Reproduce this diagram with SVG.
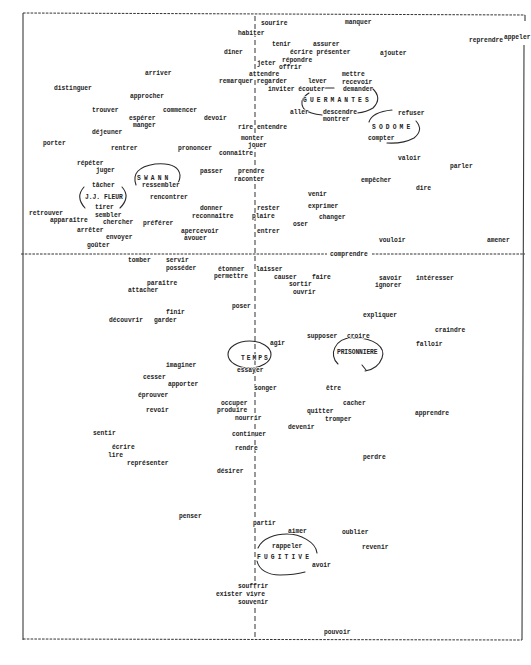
<svg xmlns="http://www.w3.org/2000/svg" width="531" height="665" viewBox="0 0 531 665">
<style>
.w{font-family:"Liberation Mono","DejaVu Sans Mono",monospace;font-size:6.3px;font-weight:bold;fill:#222;stroke:#fff;stroke-width:1.4px;paint-order:stroke;stroke-linejoin:round}
.cap{letter-spacing:3.1px}
.frame{fill:none;stroke:#3a3a3a;stroke-width:1.1}
.dash{fill:none;stroke:#333;stroke-width:1;stroke-dasharray:2.6 1.2}
.vax{fill:none;stroke:#333;stroke-width:1;stroke-dasharray:5 3}
.arc{fill:none;stroke:#2a2a2a;stroke-width:1.1;stroke-linecap:round}
</style>
<rect width="531" height="665" fill="#fff"/>
<g id="frame">
<path class="dash" d="M23 13 L525 15"/>
<path class="dash" d="M23 639 L522 640"/>
<path class="frame" d="M23 13 L23 640" stroke-width="1.5"/>
<path class="frame" d="M525 15 L525 21 M524 45 L522 640"/>
<path class="dash" d="M21 254 L327 254 M372 254 L525 254"/>
<path class="vax" d="M255 16 L255 639"/>
</g>
<g id="connectors">
<path class="arc" d="M309 93 Q298 100 304 109 Q310 114 322 115"/>
<path class="arc" d="M325 88 L334 88"/>
<path class="arc" d="M372 88 Q383 98 373 108 Q367 112 357 113"/>
<path class="arc" d="M392 110 Q372 112 369 122"/>
<path class="arc" d="M416 121 Q424 130 414 138 Q403 144 387 143"/>
<path class="arc" d="M136 185 Q130 168 155 164 Q178 162 180 175 Q180 181 177 184"/>
<path class="arc" d="M84 187 Q75 197 85 208"/>
<path class="arc" d="M122 187 Q131 197 120 208"/>
<ellipse class="arc" cx="249.5" cy="354.5" rx="21.5" ry="13.5"/>
<path class="arc" d="M338 364 C328 355 335 338 352 338 C375 337 386 348 382 358 C379 366 372 370 365 371 M362 365 L366 370"/>
<path class="arc" d="M258 548 C262 538 276 534 287 534 C300 534 316 542 317 553"/>
<path class="arc" d="M257 561 C259 570 268 575 280 575 C290 575 298 574 305 572"/>
</g>
<g id="words-upper-left">
<text class="w" id="arriver" x="145" y="75">arriver</text>
<text class="w" id="distinguer" x="54" y="90">distinguer</text>
<text class="w" id="approcher" x="130" y="98">approcher</text>
<text class="w" id="trouver" x="92" y="112">trouver</text>
<text class="w" id="commencer" x="163" y="112">commencer</text>
<text class="w" id="esperer" x="129" y="120">espérer</text>
<text class="w" id="manger" x="133" y="127">manger</text>
<text class="w" id="dejeuner" x="92" y="134">déjeuner</text>
<text class="w" id="porter" x="43" y="145">porter</text>
<text class="w" id="rentrer" x="111" y="150">rentrer</text>
<text class="w" id="prononcer" x="178" y="150">prononcer</text>
<text class="w" id="devoir" x="204" y="120">devoir</text>
<text class="w" id="repeter" x="77" y="165">répéter</text>
<text class="w" id="juger" x="96" y="172">juger</text>
<text class="w" id="tacher" x="92" y="187">tâcher</text>
<text class="w" id="jjfleur" x="85" y="199">J.J. FLEUR</text>
<text class="w" id="tirer" x="95" y="209">tirer</text>
<text class="w" id="retrouver" x="29" y="215">retrouver</text>
<text class="w" id="apparaitre" x="50" y="222">apparaître</text>
<text class="w" id="sembler" x="95" y="217">sembler</text>
<text class="w" id="chercher" x="103" y="224">chercher</text>
<text class="w" id="preferer" x="143" y="225">préférer</text>
<text class="w" id="arreter" x="77" y="232">arrêter</text>
<text class="w" id="envoyer" x="106" y="239">envoyer</text>
<text class="w" id="gouter" x="87" y="247">goûter</text>
<text class="w cap" id="swann" x="137" y="180">SWANN</text>
<text class="w" id="ressembler" x="142" y="187">ressembler</text>
<text class="w" id="rencontrer" x="150" y="199">rencontrer</text>
<text class="w" id="passer" x="200" y="173">passer</text>
<text class="w" id="prendre" x="238" y="173">prendre</text>
<text class="w" id="raconter" x="234" y="181">raconter</text>
<text class="w" id="donner" x="200" y="210">donner</text>
<text class="w" id="reconnaitre" x="192" y="218">reconnaître</text>
<text class="w" id="apercevoir" x="181" y="233">apercevoir</text>
<text class="w" id="avouer" x="184" y="240">avouer</text>
<text class="w" id="diner" x="224" y="54">dîner</text>
<text class="w" id="habiter" x="238" y="35">habiter</text>
<text class="w" id="remarquer" x="219" y="83">remarquer regarder</text>
<text class="w" id="attendre" x="249" y="76">attendre</text>
<text class="w" id="rire" x="238" y="129">rire entendre</text>
<text class="w" id="monter" x="241" y="140">monter</text>
<text class="w" id="jouer" x="248" y="147">jouer</text>
<text class="w" id="connaitre" x="219" y="155">connaître</text>
</g>
<g id="words-upper-right">
<text class="w" id="sourire" x="261" y="25">sourire</text>
<text class="w" id="manquer" x="345" y="24">manquer</text>
<text class="w" id="tenir" x="272" y="46">tenir</text>
<text class="w" id="assurer" x="313" y="46">assurer</text>
<text class="w" id="ecrire-presenter" x="290" y="54">écrire présenter</text>
<text class="w" id="repondre" x="282" y="62">répondre</text>
<text class="w" id="jeter" x="257" y="65">jeter</text>
<text class="w" id="offrir" x="279" y="69">offrir</text>
<text class="w" id="lever" x="308" y="83">lever</text>
<text class="w" id="inviter" x="268" y="91">inviter écouter</text>
<text class="w" id="mettre" x="342" y="76">mettre</text>
<text class="w" id="recevoir" x="342" y="84">recevoir</text>
<text class="w" id="demander" x="343" y="91">demander</text>
<text class="w cap" id="guermantes" x="303" y="102">GUERMANTES</text>
<text class="w" id="aller" x="290" y="114">aller</text>
<text class="w" id="descendre" x="323" y="114">descendre</text>
<text class="w" id="montrer" x="323" y="121">montrer</text>
<text class="w" id="ajouter" x="380" y="55">ajouter</text>
<text class="w" id="reprendre" x="469" y="42">reprendre</text>
<text class="w" id="appeler" x="504" y="39">appeler</text>
<text class="w" id="refuser" x="398" y="115">refuser</text>
<text class="w cap" id="sodome" x="372" y="129">SODOME</text>
<text class="w" id="compter" x="368" y="140">compter</text>
<text class="w" id="valoir" x="398" y="160">valoir</text>
<text class="w" id="parler" x="450" y="168">parler</text>
<text class="w" id="empecher" x="361" y="182">empêcher</text>
<text class="w" id="dire" x="416" y="190">dire</text>
<text class="w" id="venir" x="308" y="196">venir</text>
<text class="w" id="exprimer" x="308" y="208">exprimer</text>
<text class="w" id="changer" x="319" y="219">changer</text>
<text class="w" id="oser" x="293" y="226">oser</text>
<text class="w" id="rester" x="257" y="210">rester</text>
<text class="w" id="plaire" x="252" y="218">plaire</text>
<text class="w" id="entrer" x="257" y="233">entrer</text>
<text class="w" id="vouloir" x="379" y="242">vouloir</text>
<text class="w" id="amener" x="487" y="242">amener</text>
<text class="w" id="comprendre" x="330" y="256">comprendre</text>
</g>
<g id="words-lower-left">
<text class="w" id="tomber" x="128" y="262">tomber</text>
<text class="w" id="servir" x="166" y="262">servir</text>
<text class="w" id="posseder" x="166" y="270">posséder</text>
<text class="w" id="etonner" x="218" y="271">étonner</text>
<text class="w" id="permettre" x="214" y="278">permettre</text>
<text class="w" id="paraitre" x="147" y="285">paraître</text>
<text class="w" id="attacher" x="128" y="292">attacher</text>
<text class="w" id="poser" x="232" y="308">poser</text>
<text class="w" id="finir" x="166" y="314">finir</text>
<text class="w" id="decouvrir" x="109" y="322">découvrir</text>
<text class="w" id="garder" x="154" y="322">garder</text>
<text class="w" id="imaginer" x="166" y="367">imaginer</text>
<text class="w" id="cesser" x="143" y="379">cesser</text>
<text class="w" id="apporter" x="168" y="386">apporter</text>
<text class="w" id="eprouver" x="138" y="397">éprouver</text>
<text class="w" id="revoir" x="146" y="412">revoir</text>
<text class="w" id="sentir" x="93" y="435">sentir</text>
<text class="w" id="ecrire" x="112" y="449">écrire</text>
<text class="w" id="lire" x="108" y="457">lire</text>
<text class="w" id="representer" x="127" y="465">représenter</text>
<text class="w" id="temps" x="241" y="360" style="letter-spacing:2px">TEMPS</text>
<text class="w" id="essayer" x="237" y="372">essayer</text>
<text class="w" id="occuper" x="221" y="405">occuper</text>
<text class="w" id="produire" x="217" y="412">produire</text>
<text class="w" id="nourrir" x="235" y="420">nourrir</text>
<text class="w" id="continuer" x="232" y="436">continuer</text>
<text class="w" id="rendre" x="235" y="450">rendre</text>
<text class="w" id="desirer" x="217" y="473">désirer</text>
<text class="w" id="penser" x="179" y="518">penser</text>
<text class="w" id="souffrir" x="238" y="588">souffrir</text>
<text class="w" id="exister" x="216" y="596">exister vivre</text>
<text class="w" id="souvenir" x="238" y="604">souvenir</text>
</g>
<g id="words-lower-right">
<text class="w" id="laisser" x="256" y="271">laisser</text>
<text class="w" id="causer" x="274" y="279">causer</text>
<text class="w" id="faire" x="312" y="279">faire</text>
<text class="w" id="sortir" x="289" y="286">sortir</text>
<text class="w" id="ouvrir" x="293" y="294">ouvrir</text>
<text class="w" id="savoir" x="379" y="280">savoir</text>
<text class="w" id="interesser" x="416" y="280">intéresser</text>
<text class="w" id="ignorer" x="375" y="287">ignorer</text>
<text class="w" id="expliquer" x="363" y="317">expliquer</text>
<text class="w" id="craindre" x="435" y="332">craindre</text>
<text class="w" id="supposer" x="307" y="338">supposer</text>
<text class="w" id="croire" x="347" y="338">croire</text>
<text class="w" id="agir" x="270" y="345">agir</text>
<text class="w" id="falloir" x="416" y="346">falloir</text>
<text class="w" id="prisonniere" x="337" y="354" style="letter-spacing:-0.1px">PRISONNIERE</text>
<text class="w" id="songer" x="254" y="390">songer</text>
<text class="w" id="etre" x="326" y="390">être</text>
<text class="w" id="cacher" x="343" y="405">cacher</text>
<text class="w" id="quitter" x="307" y="413">quitter</text>
<text class="w" id="tromper" x="325" y="421">tromper</text>
<text class="w" id="devenir" x="288" y="429">devenir</text>
<text class="w" id="apprendre" x="415" y="415">apprendre</text>
<text class="w" id="perdre" x="363" y="459">perdre</text>
<text class="w" id="partir" x="253" y="525">partir</text>
<text class="w" id="aimer" x="288" y="533">aimer</text>
<text class="w" id="oublier" x="342" y="534">oublier</text>
<text class="w" id="revenir" x="362" y="549">revenir</text>
<text class="w" id="rappeler" x="272" y="548">rappeler</text>
<text class="w cap" id="fugitive" x="257" y="559">FUGITIVE</text>
<text class="w" id="avoir" x="312" y="567">avoir</text>
<text class="w" id="pouvoir" x="324" y="634">pouvoir</text>
</g>
</svg>
